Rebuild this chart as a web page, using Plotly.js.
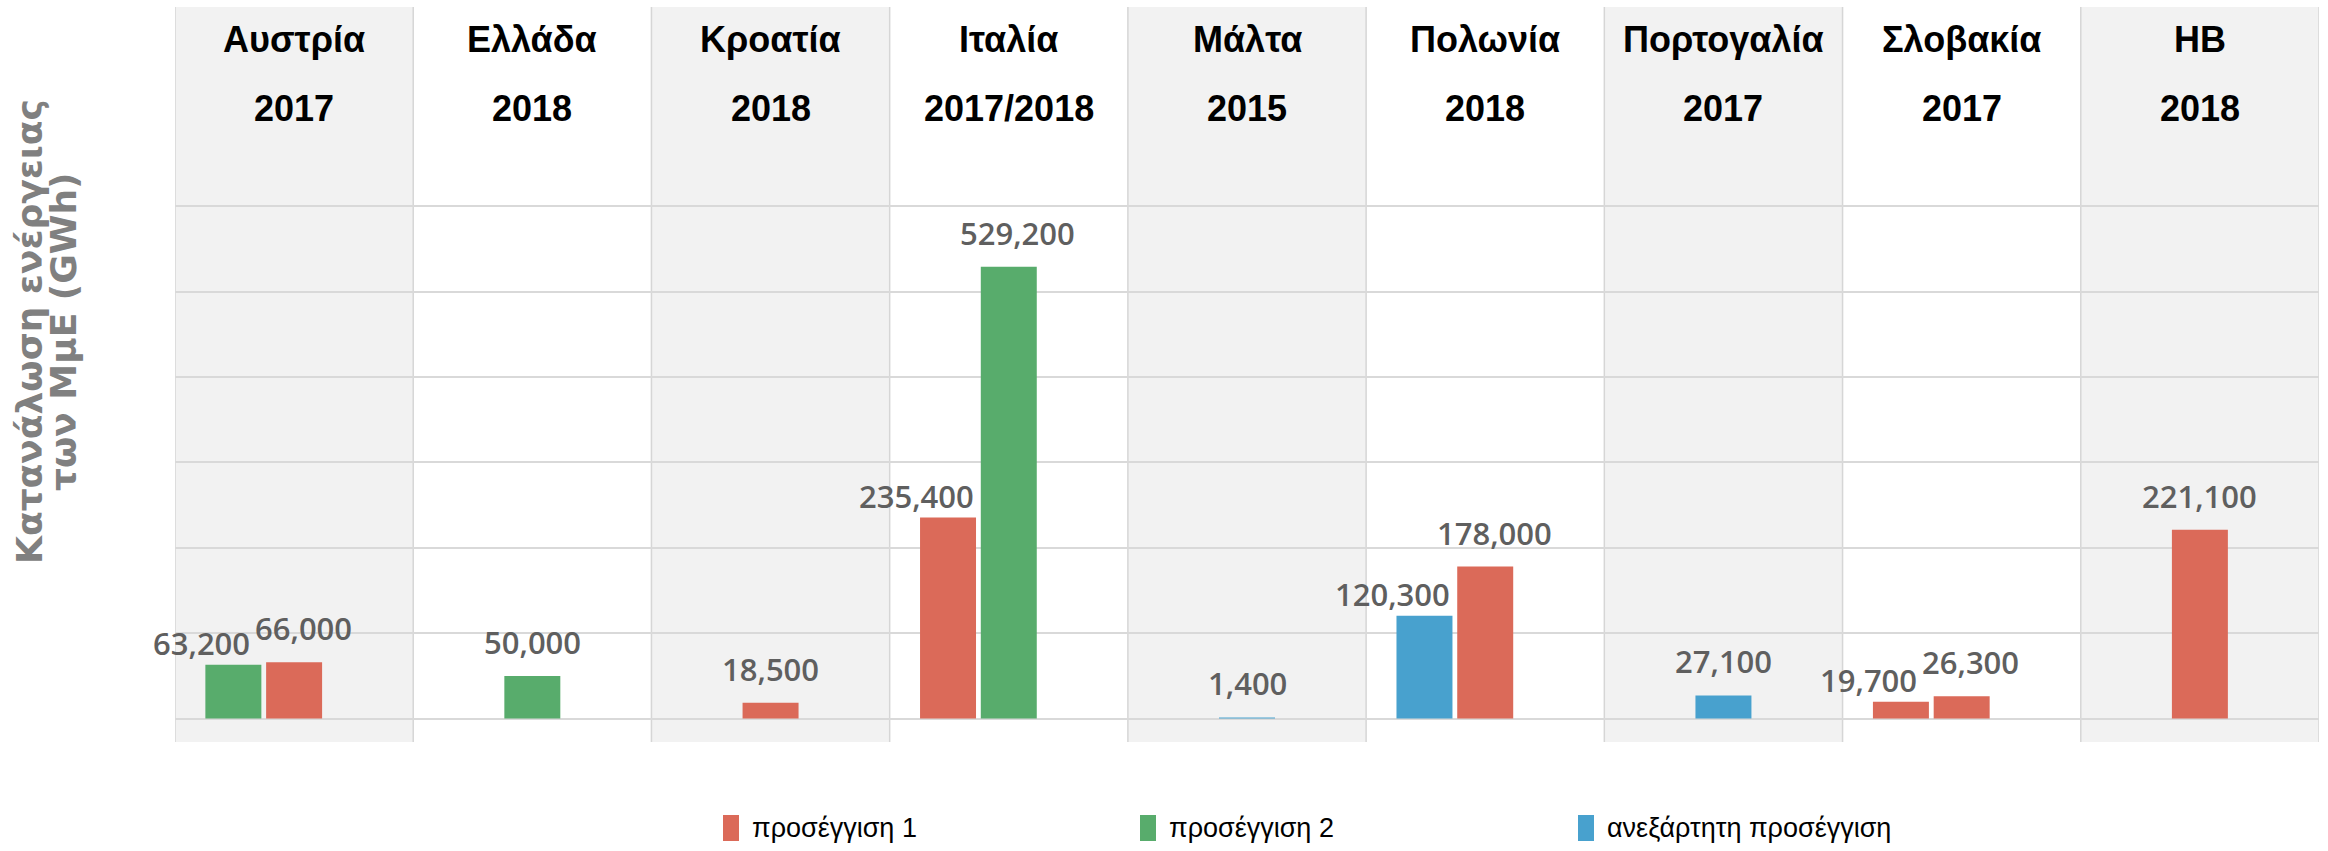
<!DOCTYPE html>
<html><head><meta charset="utf-8">
<script src="https://cdn.plot.ly/plotly-3.0.1.min.js"></script>
<style>html,body{margin:0;padding:0;background:#fff}</style>
</head><body><div id="chart" style="width:2328px;height:851px"></div>
<script>
// ---------- data ----------
const countries = ['Αυστρία','Ελλάδα','Κροατία','Ιταλία','Μάλτα','Πολωνία','Πορτογαλία','Σλοβακία','ΗΒ'];
const years = ['2017','2018','2018','2017/2018','2015','2018','2017','2017','2018'];
const seriesNames = ['προσέγγιση 1','προσέγγιση 2','ανεξάρτητη προσέγγιση'];
const seriesColors = ['#db6a59','#58ac6c','#48a1ce'];
// one entry per bar, in left-to-right order
const barCountry = ['Αυστρία','Αυστρία','Ελλάδα','Κροατία','Ιταλία','Ιταλία','Μάλτα','Πολωνία','Πολωνία','Πορτογαλία','Σλοβακία','Σλοβακία','ΗΒ'];
const barSeries  = [1,0,1,0,0,1,2,2,0,2,0,0,0];
const barValue   = [63200,66000,50000,18500,235400,529200,1400,120300,178000,27100,19700,26300,221100];
const yTitleLines = ['Κατανάλωση ενέργειας','των ΜμΕ (GWh)'];

// ---------- layout helpers ----------
const W = 2328, H = 851, ML = 175, MR = 9, MT = 7, MB = 109;
const PW = W - ML - MR, PH = H - MT - MB;
const px2x = p => (p - ML) / PW;          // pixel -> paper x
const px2y = p => (H - MB - p) / PH;      // pixel -> paper y

const BAR_W = 0.235, GAP = 0.02;
const count = {}, order = [], seen = {};
barCountry.forEach(c => { count[c] = (count[c] || 0) + 1; });
barCountry.forEach(c => { seen[c] = seen[c] || 0; order.push(seen[c]); seen[c]++; });
const offsets = barCountry.map((c, i) => -BAR_W / 2 - (count[c] - 1 - order[i]) * (BAR_W + GAP));

const traces = seriesNames.map((name, s) => {
  const idx = barSeries.map((v, i) => v === s ? i : -1).filter(i => i >= 0);
  return {
    type: 'bar', name: name, showlegend: false,
    x: idx.map(i => barCountry[i]),
    y: idx.map(i => barValue[i]),
    offset: idx.map(i => offsets[i]),
    width: BAR_W,
    marker: {color: seriesColors[s], line: {width: 0}},
    hoverinfo: 'skip'
  };
});

const shapes = [];
countries.forEach((c, i) => {
  shapes.push({type: 'rect', xref: 'x', yref: 'paper', x0: i - 0.5, x1: i + 0.5, y0: 0, y1: 1,
    fillcolor: i % 2 === 0 ? '#f2f2f2' : '#ffffff', line: {width: 0}, layer: 'below'});
});
for (let i = 0; i <= countries.length; i++) {
  shapes.push({type: 'line', xref: 'x', yref: 'paper', x0: i - 0.5, x1: i - 0.5, y0: 0, y1: 1,
    line: {color: '#d6d6d6', width: 1.5}, layer: 'below'});
}

const headFont = {family: 'Liberation Sans, Arial, sans-serif', size: 36, color: '#000', weight: 700};
const annotations = [];
countries.forEach((c, i) => {
  annotations.push({xref: 'x', yref: 'paper', x: i, y: px2y(40), yanchor: 'middle', text: c, showarrow: false, font: headFont});
  annotations.push({xref: 'x', yref: 'paper', x: i, y: px2y(108), yanchor: 'middle', text: years[i], showarrow: false, font: headFont});
});
barValue.forEach((v, i) => {
  const c = barCountry[i];
  const isPair = count[c] > 1;
  const isLeft = isPair && order[i] < count[c] - 1;
  annotations.push({xref: 'x', yref: 'y', x: c, y: v, yanchor: 'middle', text: v.toLocaleString('en-US'), showarrow: false,
    xshift: (offsets[i] + BAR_W / 2) * (PW / countries.length) + (isLeft ? -32 : (isPair ? 9 : 0)),
    yshift: isLeft ? 22 : 34,
    font: {family: 'Open Sans, sans-serif', size: 31, color: '#5f5f5f', weight: 600}});
});
yTitleLines.forEach((t, k) => {
  annotations.push({xref: 'paper', yref: 'paper', x: px2x(29 + k * 34), y: px2y(332), xanchor: 'center', yanchor: 'middle',
    text: t, showarrow: false, textangle: -90,
    font: {family: 'DejaVu Sans, sans-serif', size: 36, color: '#808080', weight: 700}});
});

// legend (drawn as shapes + text, positioned below the plot)
const legendX = [723, 1140, 1578], legendY = 828;
seriesNames.forEach((name, s) => {
  shapes.push({type: 'rect', xref: 'paper', yref: 'paper',
    x0: px2x(legendX[s]), x1: px2x(legendX[s] + 16), y0: px2y(legendY + 13), y1: px2y(legendY - 13),
    fillcolor: seriesColors[s], line: {width: 0}});
  annotations.push({xref: 'paper', yref: 'paper', x: px2x(legendX[s] + 27), y: px2y(legendY), xanchor: 'left', yanchor: 'middle',
    text: name, showarrow: false, font: {family: 'Liberation Sans, Arial, sans-serif', size: 27, color: '#000'}});
});

const gridVals = [];
for (let v = 0; v <= 600000; v += 100000) gridVals.push(v);

const layout = {
  width: W, height: H,
  margin: {l: ML, r: MR, t: MT, b: MB},
  paper_bgcolor: '#ffffff', plot_bgcolor: '#ffffff',
  barmode: 'overlay',
  xaxis: {type: 'category', categoryarray: countries, range: [-0.5, countries.length - 0.5],
    showticklabels: false, showgrid: false, zeroline: false, showline: false, ticks: ''},
  yaxis: {range: [-27400, 833300], tickvals: gridVals, showticklabels: false,
    showgrid: true, gridcolor: '#d9d9d9', gridwidth: 2, zeroline: false, showline: false, ticks: ''},
  shapes: shapes,
  annotations: annotations,
  showlegend: false,
  hovermode: false
};

Plotly.newPlot('chart', traces, layout, {displayModeBar: false, staticPlot: true});
</script></body></html>
